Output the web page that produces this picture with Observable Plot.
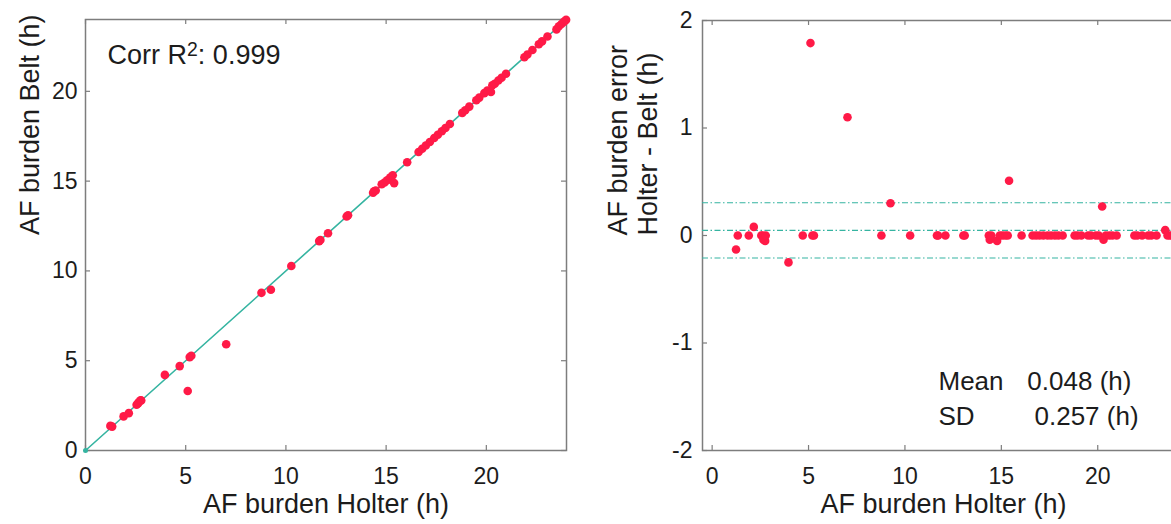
<!DOCTYPE html>
<html><head><meta charset="utf-8">
<script src="https://cdn.jsdelivr.net/npm/d3@7"></script>
<script src="https://cdn.jsdelivr.net/npm/@observablehq/plot@0.6"></script>
<style>
html,body{margin:0;padding:0;background:#fff;overflow:hidden;width:1171px;height:524px;}
#wrap{position:relative;width:1171px;height:524px;overflow:hidden;}
#left{position:absolute;left:0;top:0;}
#right{position:absolute;left:600px;top:0;}
svg{max-width:none !important;}
</style></head><body><div id="wrap"><div id="left"></div><div id="right"></div></div>
<script>
// AF burden measured by Holter (h)
const holter = [1.24,1.33,1.90,2.16,2.55,2.62,2.66,2.75,2.78,3.96,4.70,5.10,5.20,5.28,7.02,8.78,9.25,10.27,11.66,11.72,12.10,13.03,13.10,14.35,14.40,14.48,14.78,14.92,15.05,15.20,15.33,15.40,16.05,16.62,16.80,16.98,17.18,17.40,17.58,17.78,17.96,18.18,18.80,18.95,19.15,19.50,19.65,19.90,20.05,20.23,20.30,20.42,20.60,20.76,20.98,21.90,22.05,22.30,22.62,22.78,23.05,23.50,23.62,23.75,23.88,23.98];
// AF burden measured by Belt (h)
const belt   = [1.37,1.33,1.90,2.08,2.55,2.62,2.70,2.80,2.78,4.21,4.70,3.31,5.20,5.28,5.92,8.78,8.95,10.27,11.66,11.72,12.10,13.03,13.10,14.35,14.44,14.48,14.83,14.92,15.05,15.20,15.33,14.89,16.05,16.62,16.80,16.98,17.18,17.40,17.58,17.78,17.96,18.18,18.80,18.95,19.15,19.50,19.65,19.90,20.05,19.96,20.34,20.42,20.60,20.76,20.98,21.90,22.05,22.30,22.62,22.78,23.05,23.45,23.62,23.75,23.88,23.98];

const leftTicks = [0, 5, 10, 15, 20];
const rightXTicks = [0, 5, 10, 15, 20];
const rightYTicks = [-2, -1, 0, 1, 2];
const diagonal = [0, 24];
const origin = [[0, 0]];
const meanDiff = 0.048;
const sdDiff = 0.257;
const corrParts = ["Corr R", "2", ": 0.999"];
const statNames = ["Mean", "SD"];
const statValues = ["0.048 (h)", "0.257 (h)"];
const xTitle = "AF burden Holter (h)";
const yTitleLeft = "AF burden Belt (h)";
const yTitleRight = "AF burden error\nHolter - Belt (h)";

const pts = holter.map((h, i) => ({h, b: belt[i], d: +(h - belt[i]).toFixed(3)}));

const FONT = "'Liberation Sans', Arial, Helvetica, sans-serif";
const GRAY = "#7d7d7d", TEAL = "#35b4a1", RED = "#ff1a47", INK = "#1c1c1c";
const TICK = 5;

const left = Plot.plot({
  width: 600, height: 524,
  marginLeft: 85, marginRight: 34, marginTop: 19, marginBottom: 74,
  style: {fontFamily: FONT, color: INK, background: "white"},
  x: {domain: [0, 24], axis: null},
  y: {domain: [0, 24], axis: null},
  marks: [
    Plot.frame({stroke: GRAY, strokeWidth: 1.5}),
    Plot.tickX(leftTicks, {stroke: GRAY, strokeWidth: 1.2, insetTop: 431 - TICK}),
    Plot.tickX(leftTicks, {stroke: GRAY, strokeWidth: 1.2, insetBottom: 431 - TICK}),
    Plot.tickY(leftTicks, {stroke: GRAY, strokeWidth: 1.2, insetRight: 481 - TICK}),
    Plot.tickY(leftTicks, {stroke: GRAY, strokeWidth: 1.2, insetLeft: 481 - TICK}),
    Plot.line(diagonal, {x: d => d, y: d => d, stroke: TEAL, strokeWidth: 1.6}),
    Plot.dot(origin, {r: 2.5, fill: TEAL}),
    Plot.dot(pts, {x: "h", y: "b", r: 4.3, fill: RED}),
    Plot.axisX(leftTicks, {tickSize: 0, tickPadding: 17, fontSize: 23, label: null}),
    Plot.axisY(leftTicks, {tickSize: 0, tickPadding: 8, fontSize: 23, label: null}),
    Plot.text([xTitle], {frameAnchor: "bottom", dy: 62, fontSize: 27}),
    Plot.text([yTitleLeft], {frameAnchor: "left", dx: -55, rotate: -90, fontSize: 27}),
    Plot.text([corrParts.join("")], {x: 1.1, y: 22.0, textAnchor: "start", fontSize: 27})
  ]
});
document.getElementById("left").appendChild(left);

// superscript for R^2
d3.select(left).selectAll("text").filter(function () { return this.textContent === corrParts.join(""); })
  .each(function () {
    const t = d3.select(this);
    t.text(null);
    t.append("tspan").text(corrParts[0]);
    t.append("tspan").attr("dy", "-0.42em").attr("font-size", "0.72em").text(corrParts[1]);
    t.append("tspan").attr("dy", "0.30em").text(corrParts[2]);
  });

const right = Plot.plot({
  width: 620, height: 524,
  marginLeft: 102, marginRight: 36, marginTop: 20, marginBottom: 74,
  style: {fontFamily: FONT, color: INK, background: "white"},
  x: {domain: [-0.5, 24.5], axis: null},
  y: {domain: [-2, 2], axis: null},
  marks: [
    Plot.frame({stroke: GRAY, strokeWidth: 1.5}),
    Plot.tickX(rightXTicks, {stroke: GRAY, strokeWidth: 1.2, insetTop: 430 - TICK}),
    Plot.tickX(rightXTicks, {stroke: GRAY, strokeWidth: 1.2, insetBottom: 430 - TICK}),
    Plot.tickY(rightYTicks, {stroke: GRAY, strokeWidth: 1.2, insetRight: 482 - TICK}),
    Plot.ruleY([meanDiff + sdDiff, meanDiff, meanDiff - sdDiff], {stroke: TEAL, strokeWidth: 1.1, strokeDasharray: "6,2.5,1.5,2.5"}),
    Plot.dot(pts, {x: "h", y: "d", r: 4.3, fill: RED}),
    Plot.axisX(rightXTicks, {tickSize: 0, tickPadding: 17, fontSize: 23, label: null}),
    Plot.axisY(rightYTicks, {tickSize: 0, tickPadding: 10, fontSize: 23, label: null, tickFormat: d => String(d)}),
    Plot.text([xTitle], {frameAnchor: "bottom", dy: 62, fontSize: 27}),
    Plot.text([yTitleRight], {frameAnchor: "left", dx: -70, rotate: -90, fontSize: 27, lineHeight: 1.11}),
    Plot.text(statNames, {x: 11.74, y: (d, i) => [-1.358, -1.684][i], textAnchor: "start", fontSize: 26}),
    Plot.text(statValues, {x: (d, i) => [16.35, 16.72][i], y: (d, i) => [-1.358, -1.684][i], textAnchor: "start", fontSize: 26})
  ]
});
document.getElementById("right").appendChild(right);
</script>
</body></html>
